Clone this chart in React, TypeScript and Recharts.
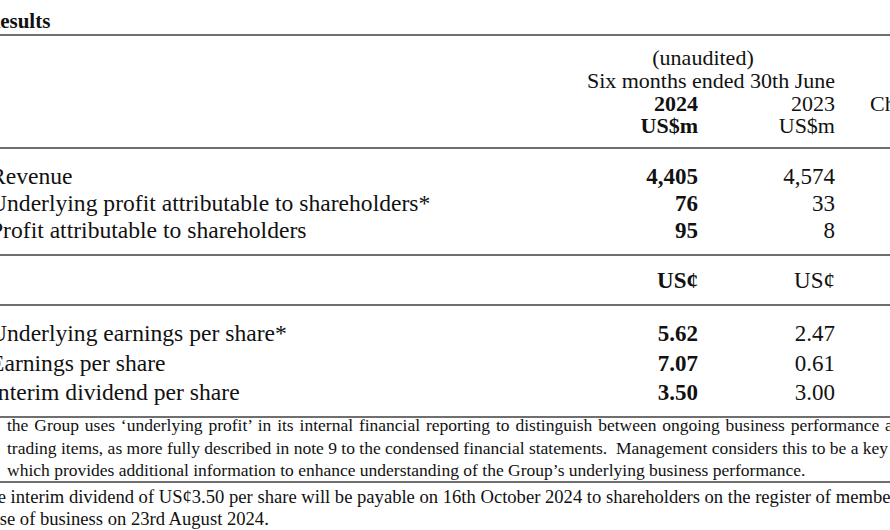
import { ComposedChart, Scatter, XAxis, YAxis, ReferenceLine } from 'recharts';

// table content
const title = 'Results';
const periodNote = '(unaudited)';
const periodLabel = 'Six months ended 30th June';
const years = ['2024', '2023'];
const moneyUnit = 'US$m';
const centUnit = 'US¢';
const changeLabel = 'Change';

const profitRows = [
  'Revenue',
  'Underlying profit attributable to shareholders*',
  'Profit attributable to shareholders',
];
const profit2024 = [4405, 76, 95];
const profit2023 = [4574, 33, 8];

const shareRows = [
  'Underlying earnings per share*',
  'Earnings per share',
  'Interim dividend per share',
];
const share2024 = [5.62, 7.07, 3.5];
const share2023 = [2.47, 0.61, 3.0];

const footnoteA = [
  'the Group uses ‘underlying profit’ in its internal financial reporting to distinguish between ongoing business performance and',
  'trading items, as more fully described in note 9 to the condensed financial statements.  Management considers this to be a key measure',
  'which provides additional information to enhance understanding of the Group’s underlying business performance.',
];
const footnoteB = [
  'The interim dividend of US¢3.50 per share will be payable on 16th October 2024 to shareholders on the register of members at the',
  'close of business on 23rd August 2024.',
];

// layout (page units)
const W = 890;
const H = 530;
const COL_LABEL = -10;
const COL_2024 = 698;
const COL_2023 = 835;
const COL_CHANGE = 870;
const Y_TITLE = 28;
const Y_HEAD = [65, 88, 111, 133];
const Y_PROFIT = [184, 211, 238];
const Y_CENT = 288;
const Y_SHARE = [341, 371, 400];
const Y_NOTE_A = [431, 454, 476];
const Y_NOTE_B = [503, 525];
const NOTE_A_SPACING = [1.5, 0, 0];
const RULES = [35, 148, 255, 305, 417, 482];

const FONT = '"Liberation Serif", "Times New Roman", serif';
const INK = '#111';
const HEAD = 22;
const LABEL = 23.6;
const VALUE = 23;
const NOTE_A = 17.5;
const NOTE_B = 18.6;

const fmtMoney = (v: number) => v.toLocaleString('en-US');
const fmtCent = (v: number) => v.toFixed(2);

type Cell = { x: number; y: number; text: string; ws?: number };

const textShape =
  (anchor: 'start' | 'middle' | 'end', weight: number, size: number) =>
  (props: any) => (
    <text
      x={props.cx}
      y={props.cy}
      textAnchor={anchor}
      fontWeight={weight}
      fontSize={size}
      fontFamily={FONT}
      fill={INK}
      style={{ whiteSpace: 'pre', wordSpacing: props.payload.ws ?? 0 }}
    >
      {props.payload.text}
    </text>
  );

const labelCells: Cell[] = [
  ...profitRows.map((t, i) => ({ x: COL_LABEL, y: Y_PROFIT[i], text: t })),
  ...shareRows.map((t, i) => ({ x: COL_LABEL, y: Y_SHARE[i], text: t })),
];

const boldHead: Cell[] = [
  { x: COL_2024, y: Y_HEAD[2], text: years[0] },
  { x: COL_2024, y: Y_HEAD[3], text: moneyUnit },
];
const plainHead: Cell[] = [
  { x: COL_2023, y: Y_HEAD[1], text: periodLabel },
  { x: COL_2023, y: Y_HEAD[2], text: years[1] },
  { x: COL_2023, y: Y_HEAD[3], text: moneyUnit },
];

const boldCells: Cell[] = [
  ...profit2024.map((v, i) => ({ x: COL_2024, y: Y_PROFIT[i], text: fmtMoney(v) })),
  { x: COL_2024, y: Y_CENT, text: centUnit },
  ...share2024.map((v, i) => ({ x: COL_2024, y: Y_SHARE[i], text: fmtCent(v) })),
];

const plainCells: Cell[] = [
  ...profit2023.map((v, i) => ({ x: COL_2023, y: Y_PROFIT[i], text: fmtMoney(v) })),
  { x: COL_2023, y: Y_CENT, text: centUnit },
  ...share2023.map((v, i) => ({ x: COL_2023, y: Y_SHARE[i], text: fmtCent(v) })),
];

const centerCells: Cell[] = [{ x: 703, y: Y_HEAD[0], text: periodNote }];
const changeCells: Cell[] = [{ x: COL_CHANGE, y: Y_HEAD[2], text: changeLabel }];
const titleCells: Cell[] = [{ x: -15, y: Y_TITLE, text: title }];

const noteACells: Cell[] = footnoteA.map((t, i) => ({ x: 7, y: Y_NOTE_A[i], text: t, ws: NOTE_A_SPACING[i] }));
const noteBCells: Cell[] = footnoteB.map((t, i) => ({ x: -23, y: Y_NOTE_B[i], text: t }));

const App = () => {
  return (
    <div style={{ position: 'absolute', left: 0, top: 0, width: W, height: H, background: '#fff' }}>
      <ComposedChart width={W} height={H} margin={{ top: 0, right: 0, bottom: 0, left: 0 }}>
        <XAxis type="number" dataKey="x" domain={[0, W]} allowDataOverflow hide />
        <YAxis type="number" dataKey="y" domain={[0, H]} allowDataOverflow reversed hide />
        {RULES.map((y) => (
          <ReferenceLine key={y} y={y} stroke="#6f6f6f" strokeWidth={2} />
        ))}
        <Scatter data={titleCells} shape={textShape('start', 700, 21)} isAnimationActive={false} />
        <Scatter data={centerCells} shape={textShape('middle', 400, HEAD)} isAnimationActive={false} />
        <Scatter data={boldHead} shape={textShape('end', 700, HEAD)} isAnimationActive={false} />
        <Scatter data={plainHead} shape={textShape('end', 400, HEAD)} isAnimationActive={false} />
        <Scatter data={changeCells} shape={textShape('start', 400, HEAD)} isAnimationActive={false} />
        <Scatter data={labelCells} shape={textShape('start', 400, LABEL)} isAnimationActive={false} />
        <Scatter data={boldCells} shape={textShape('end', 700, VALUE)} isAnimationActive={false} />
        <Scatter data={plainCells} shape={textShape('end', 400, VALUE)} isAnimationActive={false} />
        <Scatter data={noteACells} shape={textShape('start', 400, NOTE_A)} isAnimationActive={false} />
        <Scatter data={noteBCells} shape={textShape('start', 400, NOTE_B)} isAnimationActive={false} />
      </ComposedChart>
    </div>
  );
};

export default App;
